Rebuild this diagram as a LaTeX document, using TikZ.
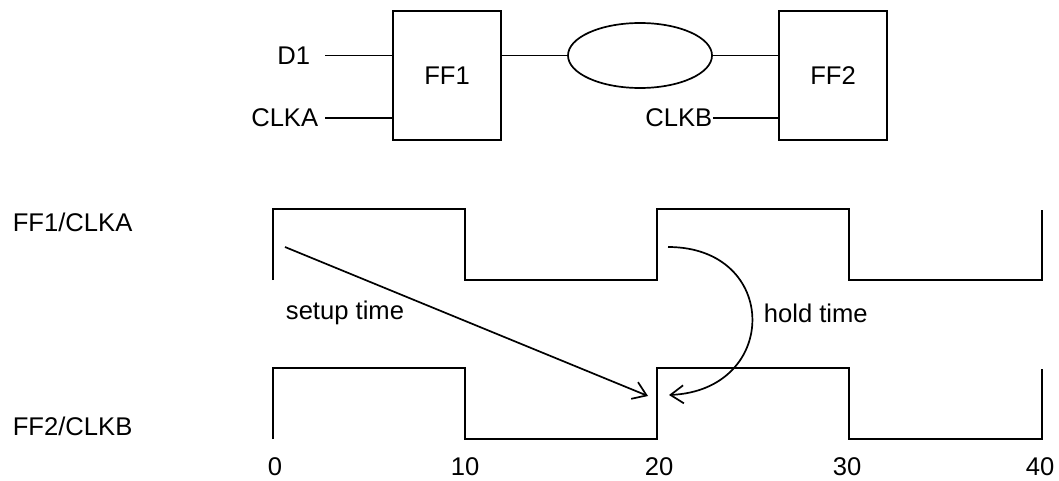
\documentclass[tikz,border=0pt]{standalone}
\usepackage{fontspec}
\setmainfont{Liberation Sans}
\usetikzlibrary{arrows.meta,shapes.geometric}
\begin{document}
\begin{tikzpicture}[x=0.5pt,y=-0.5pt,line width=0.85pt,
  lbl/.style={font=\fontsize{12.8}{15}\selectfont,inner sep=0pt},
  ffbox/.style={draw,lbl,minimum width=54pt,minimum height=64.5pt},
  blob/.style={draw,ellipse,minimum width=72pt,minimum height=32.5pt,inner sep=0pt},
  wave/.style={line join=miter},
  tmarrow/.style={-{Straight Barb[length=6.5pt,width=9pt]}}]
\useasboundingbox (0,0) rectangle (1059,481);

% ---- circuit ----
\node[ffbox] (ff1) at (447,75.5) {FF1};
\node[ffbox] (ff2) at (833,75.5) {FF2};
\node[blob] (dly) at (640,55.5) {};

\node[lbl,anchor=east] (d1) at (311,55.5) {D1};
\node[lbl,anchor=east] (clka) at (319,118) {CLKA};
\node[lbl,anchor=east] (clkb) at (713,118) {CLKB};
\coordinate (d1in) at (325,55.5);
\coordinate (clkain) at (325,118);

\draw (d1in) -- (d1in -| ff1.west);
\draw (clkain) -- (clkain -| ff1.west);
\draw (dly.west -| ff1.east) -- (dly.west);
\draw (dly.east) -- (dly.east -| ff2.west);
\draw (clkb.east) -- (clkb.east -| ff2.west);

% ---- timing diagram ----
\node[lbl,anchor=west] (sa) at (12,222) {FF1/CLKA};
\node[lbl,anchor=west] (sb) at (12,426) {FF2/CLKB};

\node[lbl] (t0) at (275,467) {0};
\node[lbl] (t10) at (465,467) {10};
\node[lbl] (t20) at (659,467) {20};
\node[lbl] (t30) at (847,467) {30};
\node[lbl] (t40) at (1040,467) {40};

\draw[wave] (273,280) -- (273,209) -- (465,209) -- (465,280) -- (657,280)
  -- (657,209) -- (849,209) -- (849,280) -- (1042,280) -- (1042,210);
\draw[wave] (273,439) -- (273,368) -- (465,368) -- (465,439) -- (657,439)
  -- (657,368) -- (849,368) -- (849,439) -- (1042,439) -- (1042,369);

\node[lbl] (setup) at (345,313) {setup time};
\node[lbl,anchor=west] (hold) at (763,313) {hold time};

\coordinate (sufrom) at (285,247);
\coordinate (suto) at (648,396);
\coordinate (hdfrom) at (668,247);
\coordinate (hdto) at (669,395);

\draw[tmarrow] (sufrom) -- (suto);
\draw[tmarrow] (hdfrom) .. controls (780,247) and (780,390) .. (hdto);
\end{tikzpicture}
\end{document}
